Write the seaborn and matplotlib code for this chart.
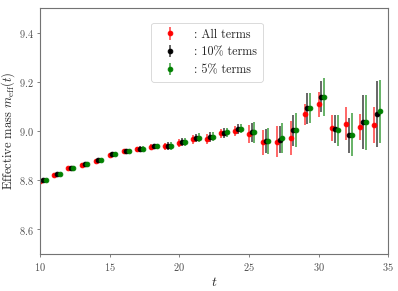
import numpy as np
import matplotlib
matplotlib.use("Agg")
import matplotlib.pyplot as plt
import seaborn as sns

# time slices
t = np.arange(10, 35)

# effective mass, all terms
m_all = [8.798, 8.823, 8.848, 8.863, 8.880, 8.904, 8.918, 8.926, 8.936, 8.937,
         8.950, 8.966, 8.968, 8.990, 9.000, 8.987, 8.954, 8.957, 8.972, 9.067,
         9.108, 9.012, 9.030, 9.016, 9.024]
e_all = [0.003, 0.004, 0.005, 0.006, 0.007, 0.008, 0.009, 0.010, 0.012, 0.015,
         0.017, 0.017, 0.020, 0.019, 0.019, 0.036, 0.050, 0.063, 0.069, 0.041,
         0.052, 0.052, 0.068, 0.053, 0.072]

# 10% terms
m_10 = [8.799, 8.824, 8.849, 8.864, 8.881, 8.905, 8.919, 8.927, 8.937, 8.939,
        8.954, 8.972, 8.976, 8.993, 9.009, 8.994, 8.958, 8.965, 9.002, 9.093,
        9.139, 9.008, 8.982, 9.037, 9.070]
e_10 = [0.003, 0.004, 0.005, 0.006, 0.007, 0.008, 0.009, 0.010, 0.012, 0.015,
        0.017, 0.017, 0.021, 0.020, 0.020, 0.040, 0.049, 0.056, 0.062, 0.063,
        0.062, 0.057, 0.070, 0.110, 0.134]

# 5% terms
m_5 = [8.799, 8.824, 8.849, 8.864, 8.881, 8.905, 8.919, 8.927, 8.937, 8.939,
       8.955, 8.973, 8.977, 8.994, 9.010, 8.995, 8.959, 8.972, 9.003, 9.094,
       9.139, 9.002, 8.985, 9.035, 9.080]
e_5 = [0.003, 0.004, 0.005, 0.006, 0.007, 0.008, 0.009, 0.010, 0.012, 0.015,
       0.018, 0.018, 0.019, 0.019, 0.020, 0.043, 0.053, 0.062, 0.070, 0.061,
       0.077, 0.064, 0.087, 0.113, 0.129]

labels = [": All terms", ": 10% terms", ": 5% terms"]

sns.set_style("ticks")
plt.rcParams["font.family"] = "serif"
plt.rcParams["font.serif"] = ["cmr10"]
plt.rcParams["mathtext.fontset"] = "cm"
plt.rcParams["axes.unicode_minus"] = False
plt.rcParams["axes.formatter.use_mathtext"] = True

fig, ax = plt.subplots(figsize=(6.4, 4.68), dpi=62.2)
fig.subplots_adjust(left=0.1005, right=0.975, bottom=0.127, top=0.9725)

series = [(m_all, e_all, "red", 0.0),
          (m_10, e_10, "black", 0.2),
          (m_5, e_5, "green", 0.4)]
for (m, e, c, dx), lab in zip(series, labels):
    eb = ax.errorbar(t + dx, m, yerr=e, fmt="o", color=c, ms=5.5,
                     elinewidth=1.8, label=lab)
    eb[2][0].set_alpha(0.75)

ax.set_xlim(10, 35)
ax.set_ylim(8.5, 9.5)
ax.set_xticks([10, 15, 20, 25, 30, 35])
ax.set_yticks([8.6, 8.8, 9.0, 9.2, 9.4])
ax.tick_params(labelsize=12, colors="0.3", length=4)
for s in ax.spines.values():
    s.set_color("0.45")
    s.set_linewidth(1.3)

ax.set_xlabel(r"$t$", fontsize=16)
ax.set_ylabel(r"Effective mass $m_{\rm eff}(t)$", fontsize=14.5, labelpad=2)
ax.legend(loc="upper center", bbox_to_anchor=(0.48, 0.965), fontsize=14,
          handletextpad=1.0, borderpad=0.5, labelspacing=0.45)

fig.savefig("out.png", dpi=62.2)
